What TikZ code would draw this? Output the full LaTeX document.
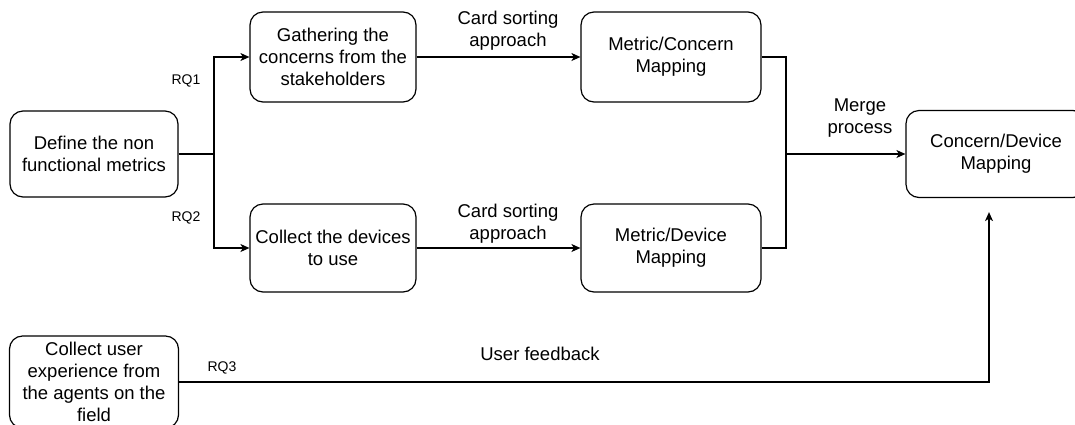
\documentclass[tikz,border=0pt]{standalone}
\usepackage{fontspec}
\setmainfont{Liberation Sans}
\usepackage{tikz}
\usetikzlibrary{arrows.meta}
\tikzset{
  stepbox/.style={draw, line width=1.2pt, rounded corners=13pt, align=center,
    inner sep=0pt, font=\fontsize{18.5}{22.2}\selectfont},
  flow/.style={line width=1.2pt},
  flowarr/.style={flow, -{Stealth[length=9pt,width=8pt,inset=2.5pt]}},
  lab/.style={align=center, font=\fontsize{18.5}{22.2}\selectfont},
  rqlab/.style={font=\fontsize{14}{17}\selectfont}
}
\begin{document}
\begin{tikzpicture}[x=1pt,y=-1pt]
  \useasboundingbox (0,0) rectangle (1075,424);

  % boxes
  \node[stepbox, minimum width=168pt, minimum height=86pt] (defbox) at (94,154) {Define the non\\functional metrics};
  \node[stepbox, minimum width=166pt, minimum height=90pt] (gather) at (333,57) {Gathering the\\concerns from the\\stakeholders};
  \node[stepbox, minimum width=180pt, minimum height=90pt] (mcmap) at (671,57) {Metric/Concern\\Mapping};
  \node[stepbox, minimum width=166pt, minimum height=88pt] (devices) at (333,248) {Collect the devices\\to use};
  \node[stepbox, minimum width=180pt, minimum height=88pt] (mdmap) at (671,248) {Metric/Device\\Mapping};
  \node[stepbox, minimum width=180pt, minimum height=87pt] (cdmap) at (996,154) {Concern/Device\\Mapping};
  \node[stepbox, minimum width=169pt, minimum height=92pt] (userexp) at (94,382) {Collect user\\experience from\\the agents on the\\field};

  \coordinate (split) at (214,154);
  \coordinate (merge) at (786,154);
  \coordinate (fbend) at ([xshift=-7pt,yshift=-14pt]cdmap.south);

  % connectors
  \draw[flow] (defbox.east) -- (split);
  \draw[flowarr] (split) |- (gather.west);
  \draw[flowarr] (split) |- (devices.west);
  \draw[flowarr] (gather) -- (mcmap);
  \draw[flowarr] (devices) -- (mdmap);
  \draw[flow] (mcmap.east) -| (merge);
  \draw[flow] (mdmap.east) -| (merge);
  \draw[flowarr] (merge) -- (cdmap.west);
  \draw[flowarr] (userexp.east) -| (fbend);

  % labels
  \node[rqlab] (rq1) at (186,81) {RQ1};
  \node[rqlab] (rq2) at (186,218) {RQ2};
  \node[rqlab] (rq3) at (222,368) {RQ3};
  \node[lab] (cardtop) at (508,31) {Card sorting\\approach};
  \node[lab] (cardbot) at (508,224) {Card sorting\\approach};
  \node[lab] (mergelab) at (860,118) {Merge\\process};
  \node[lab] (fblab) at (540,354) {User feedback};
\end{tikzpicture}
\end{document}
